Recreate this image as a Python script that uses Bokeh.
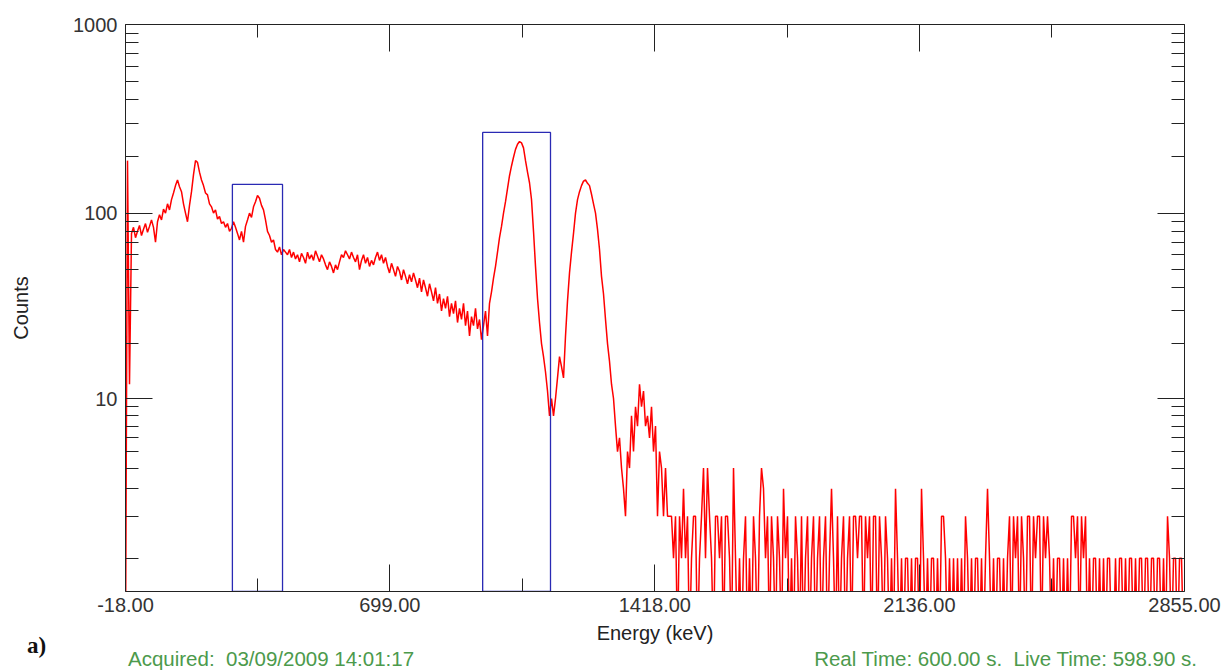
from bokeh.plotting import figure
from bokeh.models import (Range1d, FixedTicker, LogAxis, LinearAxis, NumeralTickFormatter,
                          CustomJSTickFormatter, ColumnDataSource, Div)
from bokeh.layouts import column
from bokeh.embed import file_html
from bokeh.resources import INLINE

# ---------------- data ----------------
# energy calibration of the spectrum channels (keV)
CHANNEL0_KEV = -18.0
KEV_PER_CHANNEL = 5.426

# counts per channel, low-energy part (channels 0..271)
counts_main = [
    0, 190, 12, 78, 84, 74, 80, 86, 76, 82, 88, 79, 85, 92, 84, 70,
    90, 98, 92, 105, 100, 112, 104, 118, 128, 140, 150, 138, 130, 112, 100, 90,
    110, 130, 160, 190, 186, 165, 150, 140, 128, 125, 112, 108, 100, 104, 93, 96,
    88, 90, 84, 88, 80, 83, 90, 84, 78, 72, 80, 70, 85, 92, 100, 95,
    108, 115, 124, 120, 110, 104, 92, 80, 76, 70, 72, 64, 62, 66, 60, 64,
    62, 60, 64, 58, 62, 57, 60, 55, 61, 58, 54, 62, 57, 60, 56, 63,
    59, 55, 60, 57, 53, 50, 55, 52, 48, 53, 50, 55, 60, 58, 63, 60,
    57, 62, 58, 55, 60, 50, 56, 60, 54, 58, 52, 56, 53, 58, 62, 56,
    60, 54, 58, 52, 48, 54, 50, 46, 52, 49, 44, 50, 46, 42, 47, 43,
    48, 44, 40, 45, 38, 44, 40, 36, 42, 38, 34, 40, 33, 37, 30, 35,
    31, 36, 28, 33, 29, 34, 26, 31, 27, 33, 25, 30, 22, 28, 25, 31,
    24, 27, 21, 25, 30, 22, 33, 38, 45, 52, 62, 74, 85, 100, 115, 135,
    158, 178, 198, 218, 232, 240, 236, 222, 190, 165, 145, 118, 80, 52, 35, 26,
    20, 17, 14, 11, 8, 10, 8, 10, 13, 17, 15, 13, 22, 34, 48, 62,
    78, 100, 118, 130, 140, 148, 150, 144, 140, 126, 112, 100, 82, 64, 46, 37,
    27, 20, 16, 12, 10, 7, 5, 6, 4, 3, 2, 5, 4, 8, 5, 9,
    7, 12, 9, 11, 7, 8, 6, 9, 5, 7, 2, 5, 4, 2, 4, 2,
]

# counts per channel, high-energy tail (channels 272..529)
counts_tail = [
    2, 2, 1, 2, 0, 2, 1, 3, 1, 2, 0, 1, 2, 2, 0, 1,
    2, 4, 1, 4, 2, 1, 0, 2, 2, 1, 2, 0, 2, 2, 1, 0,
    4, 1, 0, 1, 0, 1, 2, 0, 1, 0, 2, 1, 0, 2, 4, 3,
    1, 2, 0, 2, 1, 0, 2, 1, 0, 3, 1, 2, 0, 1, 0, 2,
    1, 0, 2, 0, 1, 2, 0, 1, 2, 0, 1, 2, 0, 1, 2, 0,
    1, 3, 1, 0, 2, 0, 1, 2, 0, 1, 2, 0, 2, 2, 1, 2,
    2, 0, 2, 1, 2, 0, 2, 2, 0, 2, 1, 0, 2, 1, 0, 1,
    0, 3, 1, 0, 1, 0, 1, 1, 0, 1, 0, 1, 1, 0, 3, 1,
    0, 1, 0, 1, 1, 0, 1, 0, 2, 2, 1, 0, 1, 0, 1, 0,
    1, 0, 1, 0, 2, 1, 0, 1, 0, 1, 1, 0, 1, 0, 1, 3,
    1, 0, 1, 0, 1, 1, 0, 1, 0, 1, 2, 0, 2, 1, 2, 0,
    2, 1, 0, 2, 2, 0, 2, 1, 2, 2, 0, 2, 1, 2, 1, 0,
    1, 0, 1, 1, 0, 1, 0, 1, 0, 2, 2, 1, 2, 0, 2, 1,
    2, 0, 1, 0, 1, 1, 0, 1, 0, 1, 0, 1, 1, 0, 0, 1,
    0, 1, 1, 0, 1, 0, 1, 1, 0, 1, 0, 1, 1, 0, 1, 1,
    0, 1, 1, 0, 1, 1, 0, 1, 0, 2, 1, 0, 1, 1, 0, 1, 1, 0,
]

# regions of interest (keV, counts)
roi_left = [272.0, 951.0]
roi_right = [408.0, 1135.0]
roi_top = [142.0, 268.0]

# axes
x_ticks = [-18.0, 699.0, 1418.0, 2136.0, 2855.0]
x_minor_ticks = [340.5, 1058.5, 1777.0, 2495.5]
y_major_counts = [10, 100, 1000]
y_minor_counts = [1, 2, 3, 4, 5, 6, 7, 8, 9,
                  20, 30, 40, 50, 60, 70, 80, 90,
                  200, 300, 400, 500, 600, 700, 800, 900]

x_label = "Energy (keV)"
y_label = "Counts"
panel_tag = "a)"
acquired_text = "Acquired:  03/09/2009 14:01:17"
times_text = "Real Time: 600.00 s.  Live Time: 598.90 s."

# the analyser draws log10(counts + 0.5)
LOG_OFFSET = 0.5

# ---------------- build ----------------
counts = counts_main + counts_tail
energies = [CHANNEL0_KEV + i * KEV_PER_CHANNEL for i in range(len(counts))]
src = ColumnDataSource(dict(x=energies, y=[c + LOG_OFFSET for c in counts]))

FONT = "Liberation Sans"
AX = "#222222"
W = 1224
H_PLOT = 648
H_FOOT = 22

p = figure(width=W, height=H_PLOT, output_backend="svg", toolbar_location=None,
           y_axis_type="log",
           x_range=Range1d(x_ticks[0], x_ticks[-1]),
           y_range=Range1d(1.0, 1000 + LOG_OFFSET),
           min_border_left=125, min_border_top=24, min_border_right=40,
           min_border_bottom=57)
p.outline_line_color = None
p.grid.visible = False
p.background_fill_color = "white"

p.line("x", "y", source=src, line_color="#ff0000", line_width=1.5)

roi_src = ColumnDataSource(dict(left=roi_left, right=roi_right,
                                top=[t + LOG_OFFSET for t in roi_top],
                                bottom=[1.0] * len(roi_left)))
p.quad(left="left", right="right", top="top", bottom="bottom", source=roi_src,
       fill_alpha=0, line_color="#2a2ab4", line_width=1.3)

yt = FixedTicker(ticks=[v + LOG_OFFSET for v in y_major_counts],
                 minor_ticks=[v + LOG_OFFSET for v in y_minor_counts])
xt = FixedTicker(ticks=x_ticks, minor_ticks=x_minor_ticks)
blank = CustomJSTickFormatter(code="return ''")


def style(ax):
    ax.axis_line_color = AX
    ax.major_tick_line_color = AX
    ax.minor_tick_line_color = AX
    ax.major_tick_in = 27
    ax.major_tick_out = 0
    ax.minor_tick_in = 13
    ax.minor_tick_out = 0
    ax.major_label_text_font = FONT
    ax.major_label_text_font_size = "20px"
    ax.major_label_text_color = "#333333"
    ax.axis_label_text_font = FONT
    ax.axis_label_text_font_size = "20px"
    ax.axis_label_text_font_style = "normal"
    ax.axis_label_text_color = "#222222"


xa = p.xaxis[0]
xa.ticker = xt
xa.formatter = NumeralTickFormatter(format="0.00")
style(xa)
xa.major_label_standoff = 6
xa.axis_label = x_label
xa.axis_label_standoff = 7

ya = p.yaxis[0]
ya.ticker = yt
ya.formatter = CustomJSTickFormatter(code="return String(Math.round(tick - %s))" % LOG_OFFSET)
style(ya)
ya.major_label_standoff = 8
ya.axis_label = y_label
ya.axis_label_standoff = 38

ra = LogAxis(ticker=yt, formatter=blank)
style(ra)
ra.major_label_text_font_size = "0px"
p.add_layout(ra, "right")

ta = LinearAxis(ticker=xt, formatter=blank)
style(ta)
ta.major_label_text_font_size = "0px"
p.add_layout(ta, "above")

# footer line with the panel tag and acquisition info (HTML text)
def nb(s):
    return s.replace("  ", "&nbsp; ")

footer_html = (
    '<div style="position:relative;width:%dpx;height:%dpx;">' % (W, H_FOOT)
    + '<span style="position:absolute;left:27px;top:-14px;font-family:\'Liberation Serif\';'
      'font-weight:bold;font-size:23px;line-height:24px;color:#111111;white-space:nowrap;">'
    + panel_tag + '</span>'
    + '<span style="position:absolute;left:128px;top:0px;font-family:\'Liberation Sans\';'
      'font-size:20.5px;line-height:22px;color:#4c9a4c;white-space:nowrap;">'
    + nb(acquired_text) + '</span>'
    + '<span style="position:absolute;right:27px;top:0px;font-family:\'Liberation Sans\';'
      'font-size:20.5px;line-height:22px;color:#4c9a4c;white-space:nowrap;">'
    + nb(times_text) + '</span>'
    + '</div>'
)
footer = Div(text=footer_html, width=W, height=H_FOOT,
             styles={"overflow": "visible", "margin": "0", "padding": "0"})

layout = column(p, footer, spacing=0)

open("out.html", "w").write(file_html(layout, INLINE))
